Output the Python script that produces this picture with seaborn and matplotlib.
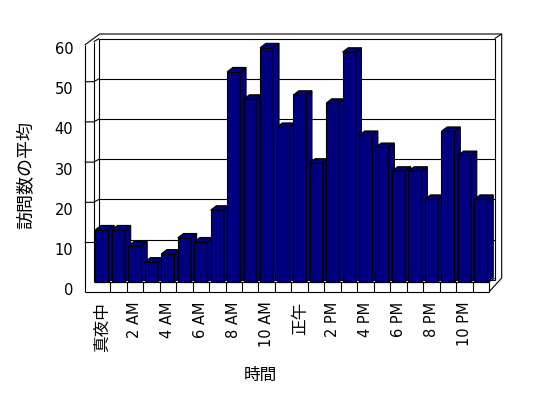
import matplotlib
matplotlib.use("Agg")
import matplotlib.pyplot as plt
import numpy as np
import pandas as pd
import seaborn as sns
from matplotlib.patches import Polygon
from matplotlib.lines import Line2D
from matplotlib.transforms import ScaledTranslation

# ---- data ----
hours = [str(h) for h in range(24)]
values = [12.9, 12.9, 8.9, 4.9, 6.9, 10.9, 9.9, 17.8, 52.2, 45.4, 58.2, 38.4,
          46.4, 29.5, 44.4, 57.1, 36.4, 33.4, 27.5, 27.5, 20.5, 37.4, 31.4, 20.5]
tick_positions = list(range(0, 24, 2))
tick_labels = ["真夜中", "2 AM", "4 AM", "6 AM", "8 AM", "10 AM",
               "正午", "2 PM", "4 PM", "6 PM", "8 PM", "10 PM"]
y_ticks = [0, 10, 20, 30, 40, 50, 60]
x_title = "時間"
y_title = "訪問数の平均"

plt.rcParams['font.family'] = ['DejaVu Sans', 'Noto Sans CJK JP']

NAVY = "#000080"
W, H = 548, 398
L, R, T, B = 93.7, 489.2, 40.5, 281.7

fig = plt.figure(figsize=(W / 100, H / 100), dpi=100)
ax = fig.add_axes([L / W, 1 - B / H, (R - L) / W, (B - T) / H])

df = pd.DataFrame({"hour": hours, "visits": values})
sns.barplot(data=df, x="hour", y="visits", order=hours, color=NAVY,
            saturation=1, edgecolor="black", linewidth=0.8, width=0.8, ax=ax)
ax.set_xlim(-0.5, 23.5)
ax.set_ylim(0, 60)
for s in ax.spines.values():
    s.set_visible(False)
ax.patch.set_visible(False)

# pixel -> data unit conversion
ux = (24.0) / (R - L)
uy = 60.0 / (B - T)


def P(xd, yd, dxp=0.0, dyp=0.0):
    """data point plus pixel offset (dyp positive = downward)"""
    return (xd + dxp * ux, yd - dyp * uy)


def line(pts, z=2, lw=0.8):
    xs, ys = zip(*pts)
    ax.add_line(Line2D(xs, ys, color="black", lw=lw, zorder=z,
                       clip_on=False, solid_capstyle="butt"))


WDX, WDY = 5.5, -2.0        # back wall offset
TDX, TDY = 12.5, -6.5       # outer wall thickness corner
x0, x1 = -0.5, 23.5

# back wall
ax.add_patch(Polygon([P(x0, 0, WDX, WDY), P(x1, 0, WDX, WDY),
                      P(x1, 60, WDX, WDY), P(x0, 60, WDX, WDY)],
                     closed=True, fc="white", ec="black", lw=0.8,
                     zorder=1, clip_on=False))
for v in y_ticks[1:-1]:
    line([P(x0, v, WDX, WDY), P(x1, v, WDX, WDY)], z=1.5)
    # side wall gridline segments
    line([P(x0, v, -9, 1), P(x0, v, 0, 1), P(x0, v, WDX, WDY)], z=1.5)

# side wall
line([P(x0, 0, -9, 10), P(x0, 60, -9, 4.5)])
line([P(x0, 0, 0, 0), P(x0, 60, 0, 1.2)])
line([P(x0, 60, -9, 4.5), P(x0, 60, 6, TDY), P(x1, 60, TDX, TDY),
      P(x1, 0, TDX, -3.7), P(x1, 0, 0, 10)])
line([P(x0, 60, 0, 1.2), P(x0, 60, WDX, WDY)])
line([P(x1, 60, WDX, WDY), P(x1, 60, TDX, TDY)])

# floor
line([P(x0, 0, -9, 10), P(x1, 0, 0, 10)])
line([P(x0, 0), P(x1, 0)])
for k in range(1, 25):
    line([P(x0 + k, 0), P(x0 + k, 0, 0, 10)])
line([P(x1, 0), P(x1, 0, WDX, -3.5)])

# 3D bar faces
ddx, ddy = 5.7 * ux, 4.4 * uy
for i, p in enumerate(ax.patches):
    if not hasattr(p, "get_x"):
        continue
    bx, bw, bh = p.get_x(), p.get_width(), p.get_height()
    z = 10 + i
    p.set_zorder(z)
    p.set_clip_on(False)
    top = Polygon([(bx, bh), (bx + bw, bh), (bx + bw + ddx, bh + ddy),
                   (bx + ddx, bh + ddy)], closed=True, fc=NAVY, ec="black",
                  lw=0.8, zorder=z, clip_on=False)
    side = Polygon([(bx + bw, 0), (bx + bw, bh), (bx + bw + ddx, bh + ddy),
                    (bx + bw + ddx, ddy)], closed=True, fc=NAVY, ec="black",
                   lw=0.8, zorder=z, clip_on=False)
    ax.add_patch(top)
    ax.add_patch(side)

# ticks
ax.set_xticks(tick_positions)
ax.set_xticklabels(tick_labels, rotation=90)
ax.tick_params(axis="x", length=0, pad=14.4, labelsize=10.5)
for lab in ax.get_xticklabels():
    if any(ord(c) > 0x3000 for c in lab.get_text()):
        lab.set_fontsize(12)

ax.set_yticks(y_ticks)
ax.set_yticklabels([str(v) for v in y_ticks])
ax.tick_params(axis="y", length=0, pad=14.7, labelsize=10.5)
shift = ScaledTranslation(0, -7.5 / 100, fig.dpi_scale_trans)
for t in ax.yaxis.get_major_ticks():
    t.label1.set_transform(t.label1.get_transform() + shift)

ax.set_xlabel(x_title, fontsize=12)
ax.xaxis.set_label_coords(260 / W, 1 - 366 / H, transform=fig.transFigure)
ax.set_ylabel(y_title, fontsize=13)
ax.yaxis.set_label_coords(35 / W, 1 - 175 / H, transform=fig.transFigure)

fig.savefig("out.png", dpi=100, facecolor="white")
